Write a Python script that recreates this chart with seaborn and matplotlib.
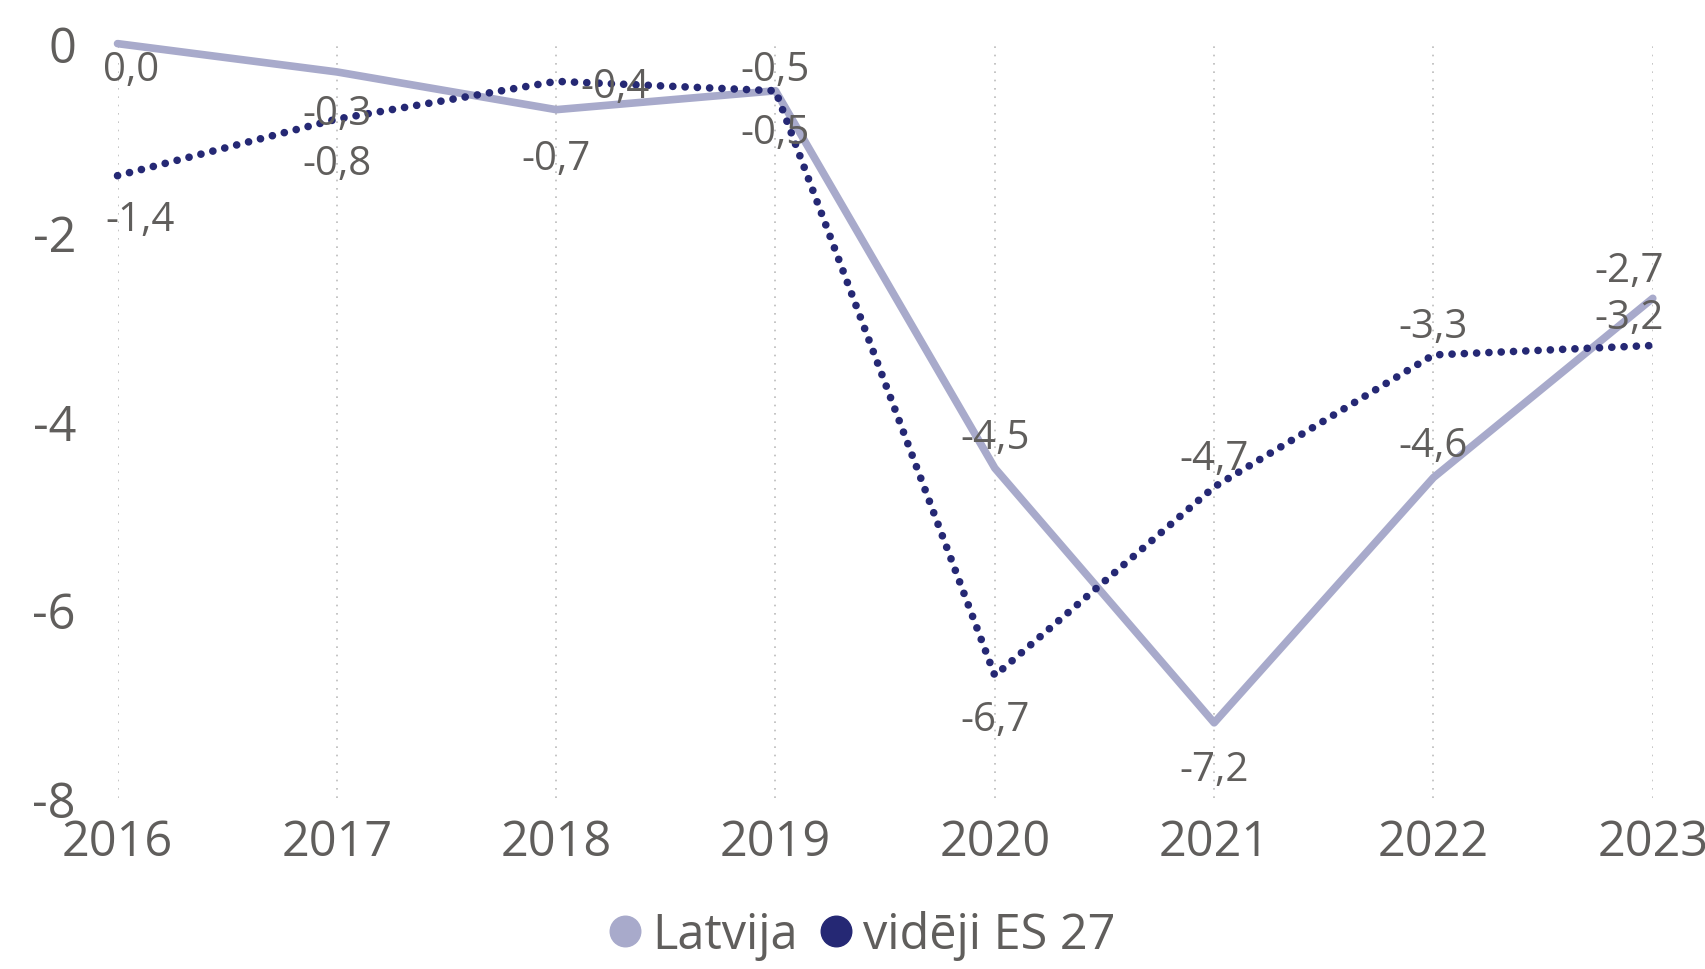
# importa bibliotecas
import pandas as pd
import seaborn as sns
import matplotlib.pyplot as plt
from matplotlib.lines import Line2D

# dados
years = [2016, 2017, 2018, 2019, 2020, 2021, 2022, 2023]
latvija = [0.0, -0.3, -0.7, -0.5, -4.5, -7.2, -4.6, -2.7]
es27 = [-1.4, -0.8, -0.4, -0.5, -6.7, -4.7, -3.3, -3.2]
series_names = ["Latvija", "vidēji ES 27"]
y_ticks = [0, -2, -4, -6, -8]

# posicao dos rotulos (dx, dy em pontos)
lat_offsets = [(10, -19), (0, -30), (0, -35), (0, -30), (0, 22), (0, -34), (0, 23), (-17, 20)]
es_offsets = [(16, -32), (0, -32), (42, -4), (0, 15), (0, -32), (0, 20), (0, 20), (-17, 20)]

text_col = "#605E5C"
lat_col = "#A8AACB"
es_col = "#252874"

sns.set_style("white")
plt.rcParams["font.family"] = ["Open Sans", "DejaVu Sans"]
plt.rcParams["axes.unicode_minus"] = False

df = pd.DataFrame({"ano": years, series_names[0]: latvija, series_names[1]: es27})

fig = plt.figure(figsize=(17.06, 9.70), dpi=100)
ax = fig.add_axes([0.0689, 0.176, 0.8999, 0.778])

sns.lineplot(data=df, x="ano", y=series_names[0], ax=ax, color=lat_col,
             linewidth=5.5, clip_on=False, solid_capstyle="round")
sns.lineplot(data=df, x="ano", y=series_names[1], ax=ax, color=es_col,
             linewidth=5.5, clip_on=False, dashes=False)
ax.lines[1].set_dashes((0.01, 1.6))
ax.lines[1].set_dash_capstyle("round")

def fmt(v):
    return f"{v:.1f}".replace(".", ",")

for vals, offs in [(latvija, lat_offsets), (es27, es_offsets)]:
    for x, v, (dx, dy) in zip(years, vals, offs):
        ax.annotate(fmt(v), (x, v), xytext=(dx, dy), textcoords="offset points",
                    ha="center", va="center", fontsize=29, color=text_col,
                    annotation_clip=False)

ax.set_xlim(2016, 2023)
ax.set_ylim(-8, 0)
ax.set_xticks(years)
ax.set_xticklabels([str(y) for y in years])
ax.set_yticks(y_ticks)
ax.set_yticklabels([str(t) for t in y_ticks])
ax.tick_params(axis="both", length=0, labelsize=35, labelcolor=text_col)
ax.tick_params(axis="x", pad=14)
ax.tick_params(axis="y", pad=30)
ax.xaxis.grid(True, color="#BBBBBB", linestyle=(0, (1, 4)), linewidth=1.2)
ax.yaxis.grid(False)
ax.set_xlabel("")
ax.set_ylabel("")
sns.despine(ax=ax, left=True, bottom=True)

handles = [Line2D([], [], marker="o", linestyle="", color=c, markersize=22)
           for c in [lat_col, es_col]]
fig.legend(handles, series_names, loc="center", bbox_to_anchor=(0.503, 0.035),
           ncol=2, frameon=False, fontsize=35, labelcolor=text_col,
           handletextpad=0.05, columnspacing=0.3, handlelength=1.0)

# salva como imagem
fig.savefig("out.png", dpi=100)
